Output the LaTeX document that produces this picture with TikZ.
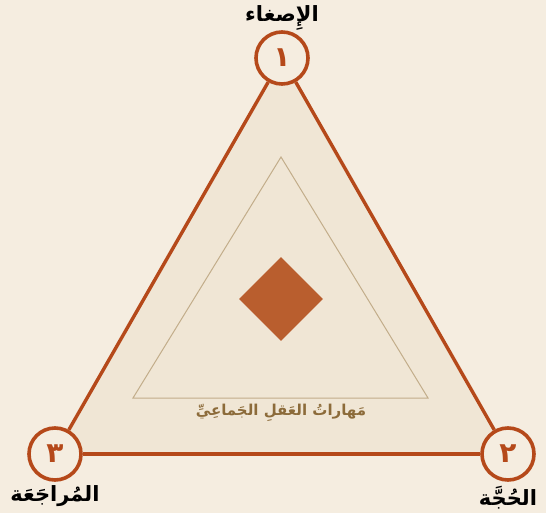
\documentclass[tikz,border=0pt]{standalone}
\usepackage{fontspec}
\TeXXeTstate=1
\newfontfamily\arabicfont[Script=Arabic]{DejaVu Sans}
\definecolor{paper}{RGB}{245, 237, 224}
\definecolor{trifill}{RGB}{240, 230, 213}
\definecolor{rust}{RGB}{181, 73, 26}
\definecolor{clay}{RGB}{185, 94, 46}
\definecolor{sand}{RGB}{194, 173, 138}
\definecolor{bronze}{RGB}{140, 107, 58}
\usetikzlibrary{positioning, shapes.geometric}
\tikzset{
	stage/.style={circle, draw=rust, fill=paper, line width=3.6pt, minimum size=52pt, inner sep=0pt, text=rust, font=\arabicfont\bfseries\fontsize{28}{28}\selectfont},
	stagelabel/.style={inner sep=0pt, text=black, font=\arabicfont\bfseries\fontsize{21}{21}\selectfont},
	corelabel/.style={inner sep=0pt, text=bronze, font=\arabicfont\bfseries\fontsize{15}{15}\selectfont},
	core/.style={diamond, aspect=1, fill=clay, minimum size=84pt, inner sep=0pt},
	side/.style={draw=rust, line width=3.4pt},
	innerside/.style={draw=sand, line width=1pt},
}

\begin{document}
\begin{tikzpicture}[x=1pt, y=-1pt, node distance=4pt]
	\fill[paper] (0,0) rectangle (546,513);
	\useasboundingbox (0,0) rectangle (546,513);
	% triangle corners
	\coordinate (p1) at (282,58);
	\coordinate (p2) at (508,454);
	\coordinate (p3) at (55,454);
	\fill[trifill] (p1) -- (p2) -- (p3) -- cycle;
	% inner triangle
	\coordinate (q1) at (281,157);
	\coordinate (q2) at (428,398);
	\coordinate (q3) at (133,398);
	\draw[innerside] (q1) -- (q2) -- (q3) -- cycle;
	\node[core] (centre) at (281,299) {};
	\node[corelabel, below=6pt of centre.center |- q3] (skills) {\beginR مَهاراتُ العَقلِ الجَماعِيِّ\endR};
	% stages
	\node[stage] (n1) at (p1) {١};
	\node[stage] (n2) at (p2) {٢};
	\node[stage] (n3) at (p3) {٣};
	\draw[side] (n1) -- (n2);
	\draw[side] (n2) -- (n3);
	\draw[side] (n3) -- (n1);
	\node[stagelabel, above=0pt of n1] (l1) {\beginR الإِصغاء\endR};
	\node[stagelabel, below=of n2] (l2) {\beginR الحُجَّة\endR};
	\node[stagelabel, below=of n3] (l3) {\beginR المُراجَعَة\endR};
\end{tikzpicture}
\end{document}
